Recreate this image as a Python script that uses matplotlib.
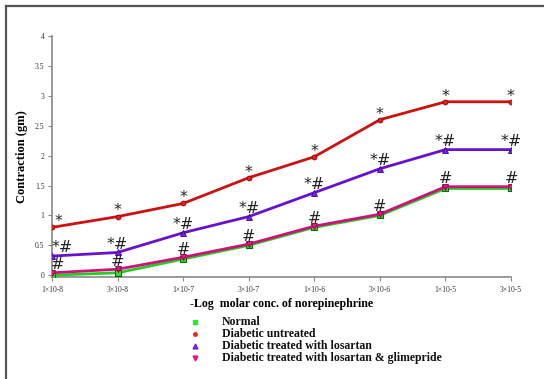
import matplotlib
matplotlib.use("Agg")
import matplotlib.pyplot as plt
from matplotlib.lines import Line2D

concentrations = ["1×10-8", "3×10-8", "1×10-7", "3×10-7", "1×10-6", "3×10-6", "1×10-5", "3×10-5"]

normal = [0.00, 0.04, 0.27, 0.50, 0.80, 1.00, 1.45, 1.45]
diabetic_untreated = [0.80, 0.98, 1.20, 1.63, 1.98, 2.60, 2.90, 2.90]
losartan = [0.32, 0.38, 0.71, 0.98, 1.38, 1.78, 2.10, 2.10]
losartan_glimepride = [0.04, 0.10, 0.30, 0.52, 0.82, 1.02, 1.48, 1.48]

series_labels = ["Normal", "Diabetic untreated", "Diabetic treated with losartan",
                 "Diabetic treated with losartan & glimepride"]

y_ticks = [0, 0.5, 1, 1.5, 2, 2.5, 3, 3.5, 4]
y_tick_labels = ["0", "0.5", "1", "1.5", "2", "2.5", "3", "3.5", "4"]

serif = ["Liberation Serif", "DejaVu Serif"]

fig = plt.figure(figsize=(5.44, 3.79), dpi=100)
fig.patch.set_facecolor("white")

# outer frame (left and top edges)
fig.add_artist(Line2D([5.5 / 544, 5.5 / 544], [0, 1 - 5.5 / 379], color="#555555", lw=1.6,
                      transform=fig.transFigure))
fig.add_artist(Line2D([5.5 / 544, 1], [1 - 5.5 / 379, 1 - 5.5 / 379], color="#555555", lw=1.6,
                      transform=fig.transFigure))

ax = fig.add_axes([52 / 544, (379 - 277) / 379, (511 - 52) / 544, (277 - 36) / 379])
x = list(range(len(concentrations)))

ax.plot(x, normal, color="#22cc22", lw=2, marker="s", ms=4.5, mfc="#33dd33", mec="#006600", mew=0.8, zorder=3)
ax.plot(x, losartan_glimepride, color="#cc1177", lw=2, marker="v", ms=4.5, mfc="#ee1188", mec="#880044", mew=0.6, zorder=4)
ax.plot(x, losartan, color="#6611cc", lw=2, marker="^", ms=4.5, mfc="#7722dd", mec="#440099", mew=0.6, zorder=4)
ax.plot(x, diabetic_untreated, color="#cc1111", lw=2, marker="o", ms=3.5, mfc="#dd2222", mec="#990000", mew=0.6, zorder=4)

ax.set_xlim(0, 7)
ax.set_ylim(-0.03, 4)
ax.set_yticks(y_ticks)
ax.set_yticklabels(y_tick_labels)
ax.set_xticks(x)
ax.set_xticklabels(concentrations)
for s in ["top", "right"]:
    ax.spines[s].set_visible(False)
for s in ["left", "bottom"]:
    ax.spines[s].set_color("#888888")
    ax.spines[s].set_linewidth(1.2)
ax.tick_params(colors="#888888", labelcolor="#333333", labelsize=5.5, length=3, width=0.8)
ax.tick_params(axis="y", pad=2.5)
for lbl in ax.get_xticklabels() + ax.get_yticklabels():
    lbl.set_family(serif)

ax.set_ylabel("Contraction (gm)", family=serif, fontweight="bold", fontsize=9)
ax.yaxis.set_label_coords(-0.053, 0.5)
ax.set_xlabel("-Log  molar conc. of norepinephrine", family=serif, fontweight="bold", fontsize=8.6, labelpad=3)

# significance markers above each point
def mark(values, text, dy, first_dx):
    for i, v in enumerate(values):
        dx = first_dx if i == 0 else 0
        ax.text(i + dx, v + dy, text, ha="center", va="baseline", fontsize=11.5,
                family=["DejaVu Sans"], color="#222222", clip_on=False)

mark(diabetic_untreated, "*", 0.02, 0.1)
mark(losartan, "*#", 0.06, 0.15)
mark(losartan_glimepride, "#", 0.06, 0.08)

# legend rows below the plot
legend_styles = [
    dict(marker="s", color="#22ee22", ms=3.5),
    dict(marker="o", color="#ee2222", ms=2.5),
    dict(marker="^", color="#7722dd", ms=3.5),
    dict(marker="v", color="#ee1188", ms=3.5),
]
rows_y = [322, 334, 346, 358]
for label, style, ry in zip(series_labels, legend_styles, rows_y):
    yf = 1 - ry / 379
    fig.add_artist(Line2D([195 / 544], [yf], linestyle="none", marker=style["marker"],
                          color=style["color"], ms=style["ms"], transform=fig.transFigure))
    fig.text(222 / 544, yf, label, family=serif, fontweight="bold", fontsize=8.5,
             va="center", ha="left", color="#111111")

fig.savefig("out.png", dpi=100, facecolor="white")
